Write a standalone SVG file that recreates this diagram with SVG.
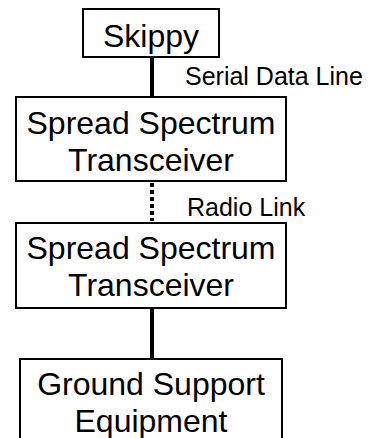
<svg xmlns="http://www.w3.org/2000/svg" width="373" height="438" viewBox="0 0 373 438">
<style>
.box{fill:#fff;stroke:#000;stroke-width:2}
.t{font-family:"Liberation Sans",Arial,sans-serif;font-size:32px;fill:#000;text-anchor:middle}
.l{font-family:"Liberation Sans",Arial,sans-serif;font-size:25px;fill:#000}
.c{stroke:#000;stroke-width:4;fill:none}
.d{stroke-dasharray:4 3}
</style>
<rect width="373" height="438" fill="#fff"/>
<g id="connectors">
<line class="c" x1="152" y1="57" x2="152" y2="97"/>
<line class="c d" x1="152" y1="183" x2="152" y2="221"/>
<line class="c" x1="152" y1="308" x2="152" y2="359"/>
<text class="l" x="185" y="85">Serial Data Line</text>
<text class="l" x="187" y="216">Radio Link</text>
</g>
<g id="skippy">
<rect class="box" x="83" y="9" width="136" height="48"/>
<text class="t" x="151" y="47">Skippy</text>
</g>
<g id="transceiver1">
<rect class="box" x="16" y="97" width="270" height="84"/>
<text class="t" x="151" y="134">Spread Spectrum</text>
<text class="t" x="151" y="171">Transceiver</text>
</g>
<g id="transceiver2">
<rect class="box" x="16" y="223" width="270" height="85"/>
<text class="t" x="151" y="259">Spread Spectrum</text>
<text class="t" x="151" y="296">Transceiver</text>
</g>
<g id="gse">
<rect class="box" x="20" y="359" width="262" height="90"/>
<text class="t" x="151" y="395">Ground Support</text>
<text class="t" x="151" y="432">Equipment</text>
</g>
</svg>
